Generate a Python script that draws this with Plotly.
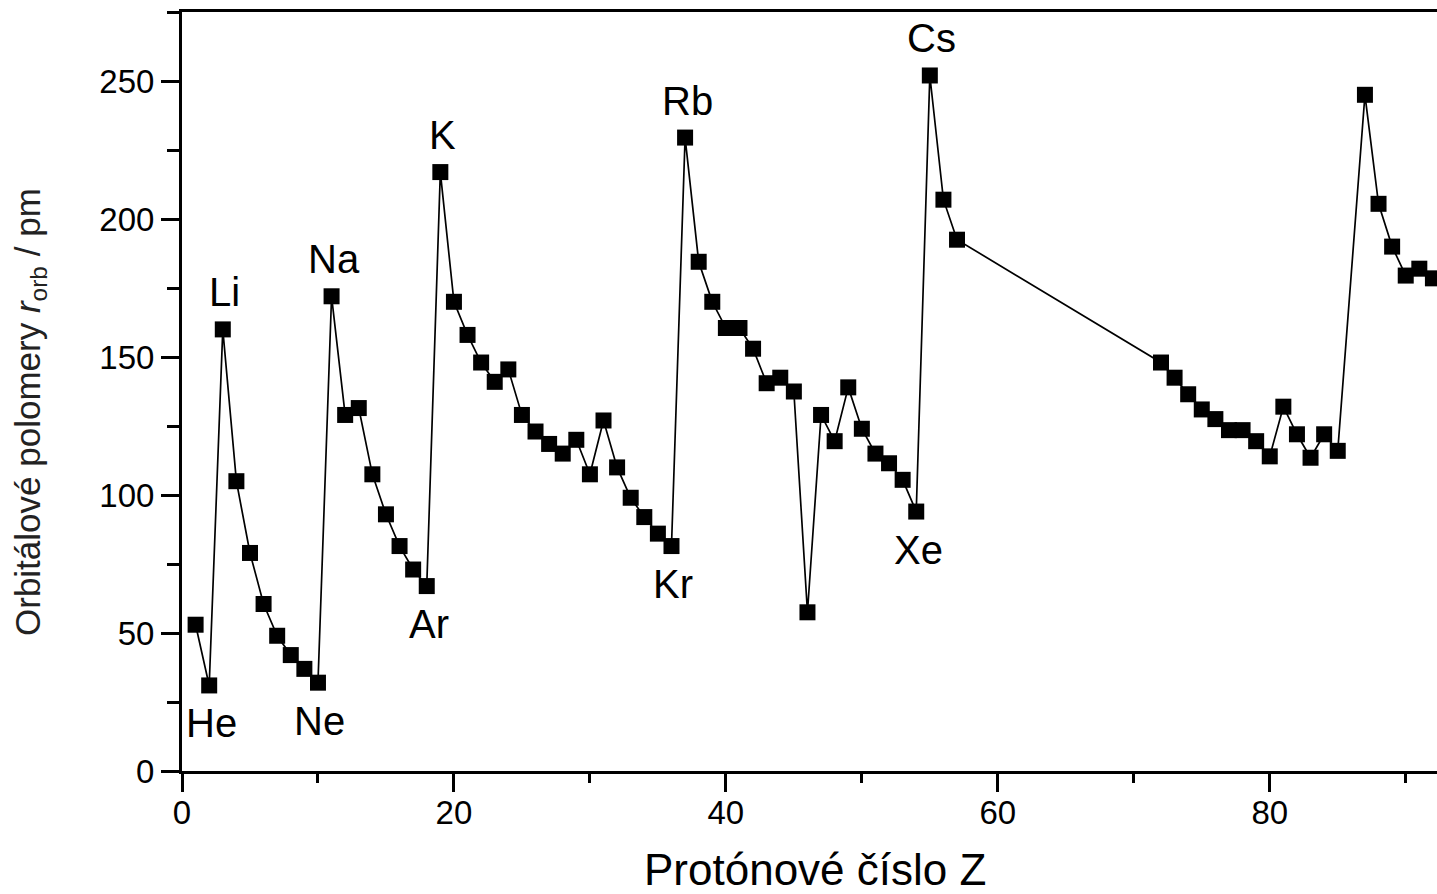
import plotly.graph_objects as go

# Proton number Z and orbital radius r_orb (pm)
Z = list(range(1, 58)) + list(range(72, 86)) + list(range(87, 93))
r_orb = [
    53, 31, 160, 105, 79, 60.5, 49, 42, 37, 32,              # 1-10
    172, 129, 131.5, 107.5, 93, 81.5, 73, 67,                 # 11-18
    217, 170, 158, 148, 141, 145.5, 129, 123, 118.5, 115,     # 19-28
    120, 107.5, 127, 110, 99, 92, 86, 81.5,                   # 29-36
    229.5, 184.5, 170, 160.5, 160.5, 153, 140.5, 142.5, 137.5, 57.5,  # 37-46
    129, 119.5, 139, 124, 115, 111.5, 105.5, 94,              # 47-54
    252, 207, 192.5,                                          # 55-57
    148, 142.5, 136.5, 131, 127.5, 123.5, 123.5, 119.5, 114,  # 72-80
    132, 122, 113.5, 122, 116,                                # 81-85
    245, 205.5, 190, 179.5, 182, 178.5,                       # 87-92
]

label_text = ["He", "Li", "Ne", "Na", "Ar", "K", "Kr", "Rb", "Xe", "Cs"]
label_Z = [2, 3, 10, 11, 18, 19, 36, 37, 54, 55]
label_side = ["below", "above", "below", "above", "below", "above", "below", "above", "below", "above"]

x_ticks = [0, 20, 40, 60, 80]
y_ticks = [0, 50, 100, 150, 200, 250]

FONT = "Liberation Sans, Arial, sans-serif"

fig = go.Figure()
fig.add_trace(go.Scatter(
    x=Z, y=r_orb, mode="lines+markers",
    line=dict(color="black", width=1.7),
    marker=dict(symbol="square", size=16, color="black", line=dict(width=0)),
    cliponaxis=False,
    showlegend=False,
))

for t, zz, side in zip(label_text, label_Z, label_side):
    yy = r_orb[Z.index(zz)]
    fig.add_annotation(
        x=zz, y=yy, text=t, showarrow=False,
        xshift=2, yshift=37 if side == "above" else -38,
        font=dict(family=FONT, size=40, color="black"),
        xanchor="center", yanchor="middle",
    )

# axis titles
fig.add_annotation(
    xref="paper", yref="paper", x=(815 - 182) / 1255, y=(771 - 869) / 759,
    text="Protónové číslo Z", showarrow=False,
    font=dict(family=FONT, size=44, color="black"),
    xanchor="center", yanchor="middle",
)
fig.add_annotation(
    xref="paper", yref="paper", x=-(182 - 30) / 1255, y=(771 - 412) / 759,
    text="Orbitálové polomery <i>r</i><sub>orb</sub> / pm", showarrow=False,
    textangle=-90,
    font=dict(family=FONT, size=35, color="#222"),
    xanchor="center", yanchor="middle",
)

fig.update_xaxes(
    range=[0, 92.3], tickvals=x_ticks, ticktext=[str(v) for v in x_ticks],
    showgrid=False, zeroline=False,
    showline=True, linecolor="black", linewidth=3, mirror=True,
    ticks="outside", ticklen=18, tickwidth=2.5, tickcolor="black",
    minor=dict(dtick=10, tick0=0, ticks="outside", ticklen=9, tickwidth=2.5, tickcolor="black"),
    tickfont=dict(family=FONT, size=33, color="black"),
    ticklabelstandoff=-8,
)
fig.update_yaxes(
    range=[0, 275], tickvals=y_ticks, ticktext=[str(v) for v in y_ticks],
    showgrid=False, zeroline=False,
    showline=True, linecolor="black", linewidth=3,
    ticks="outside", ticklen=18, tickwidth=2.5, tickcolor="black",
    minor=dict(dtick=25, tick0=0, ticks="outside", ticklen=12, tickwidth=2.5, tickcolor="black"),
    tickfont=dict(family=FONT, size=33, color="black"),
)

fig.update_layout(
    width=1437, height=894,
    margin=dict(l=182, r=0, t=12, b=123),
    paper_bgcolor="white", plot_bgcolor="white",
)

fig.write_html(
    "out.html",
    config={"displayModeBar": False},
    post_script="document.body.style.margin='0';document.body.style.padding='0';document.body.style.overflow='hidden';",
)
